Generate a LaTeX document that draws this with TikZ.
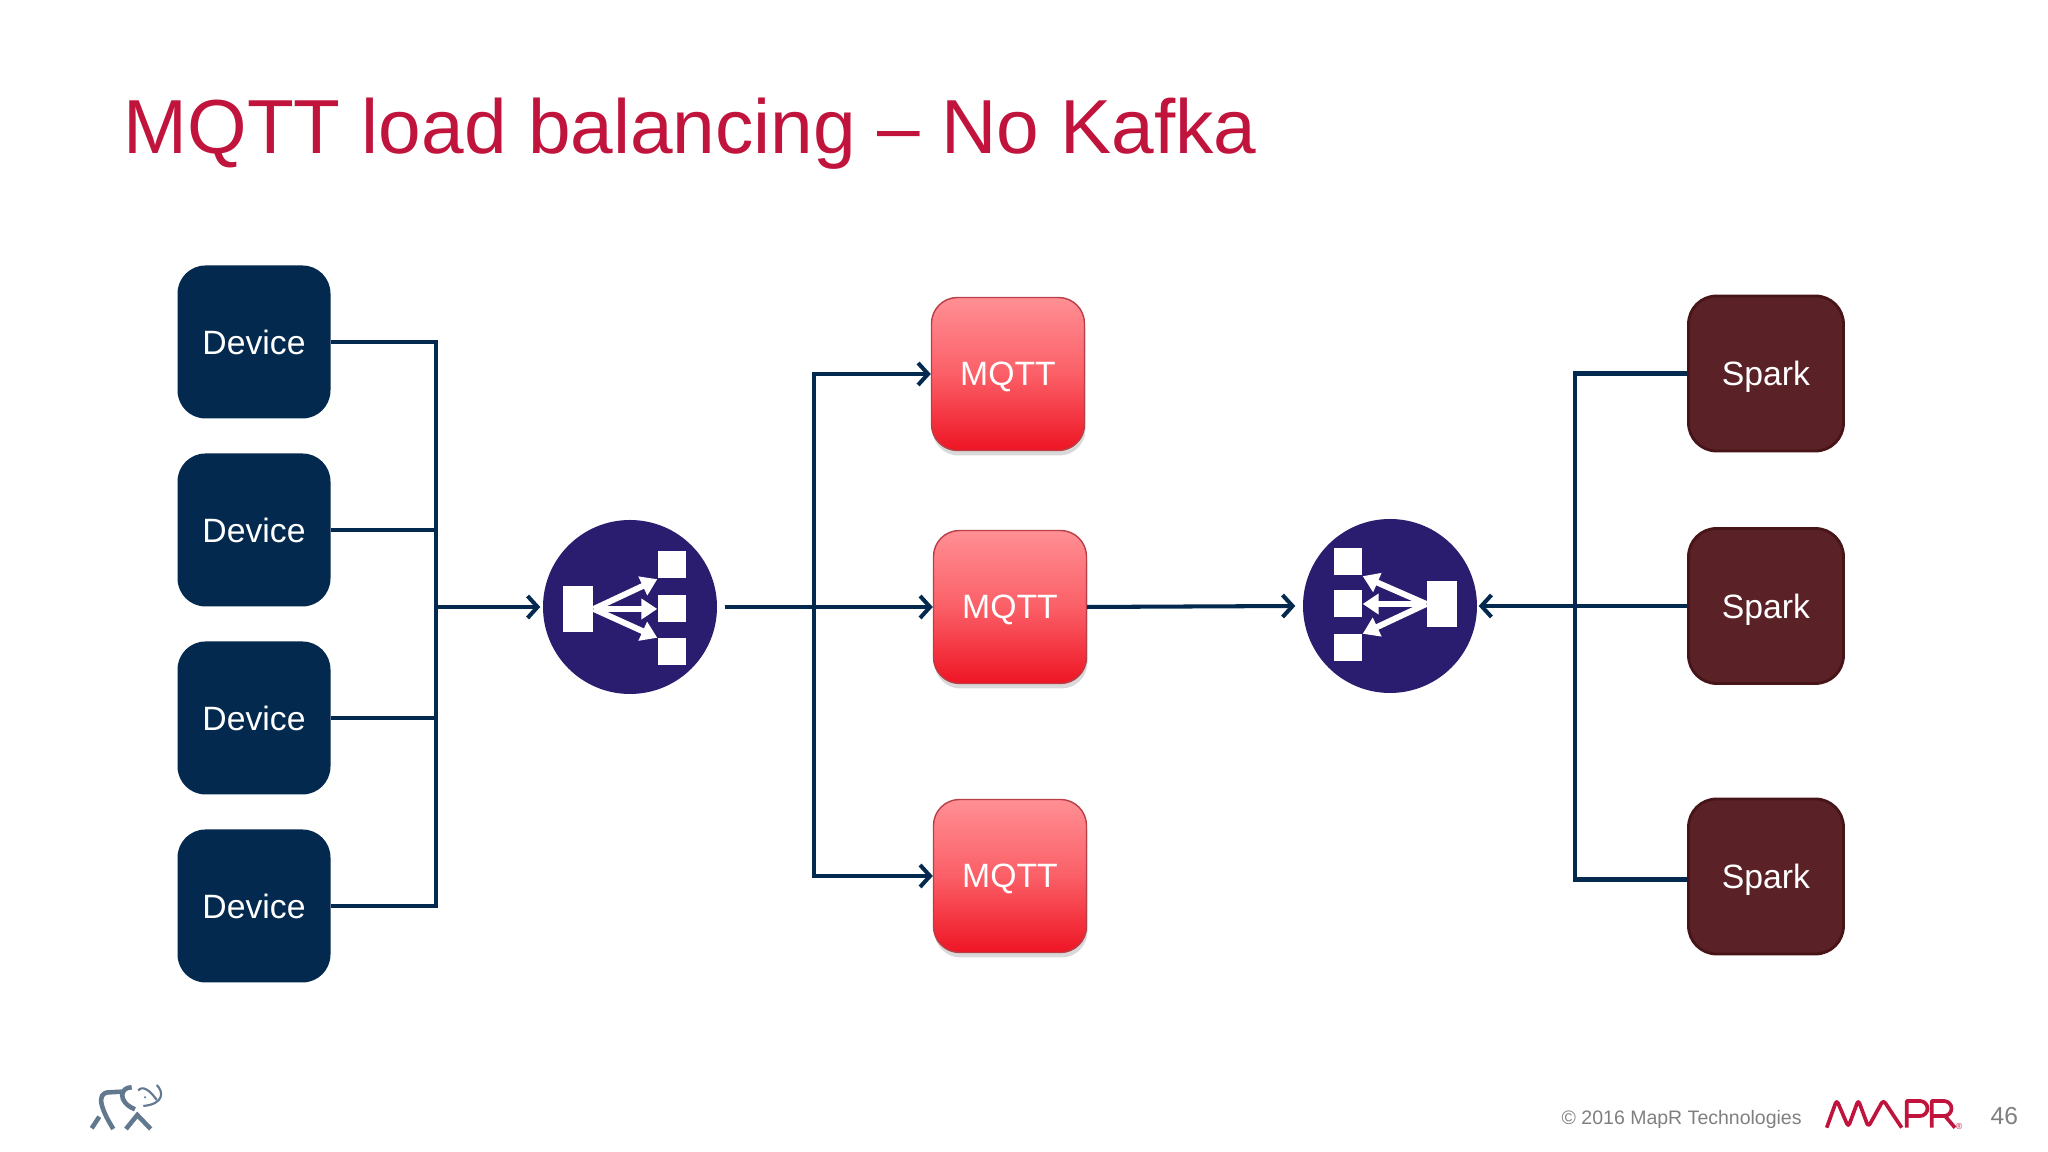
\documentclass[tikz,border=0pt]{standalone}
\usepackage{fontspec}
\setmainfont{Liberation Sans}
\usetikzlibrary{arrows.meta,shadows,calc}
\definecolor{navy}{HTML}{03294F}
\definecolor{wine}{HTML}{5A2126}
\definecolor{wineline}{HTML}{471418}
\definecolor{mapred}{HTML}{C0143C}
\definecolor{lbblue}{HTML}{2A1C6E}
\definecolor{footgray}{HTML}{7F7F7F}
\definecolor{elegray}{HTML}{61788F}
\definecolor{mqtttop}{HTML}{FF8F94}
\definecolor{mqttmid}{HTML}{FB5F67}
\definecolor{mqttbot}{HTML}{EE1524}
\tikzset{
  device/.style ={rectangle, fill=navy, text=white, minimum width=1.53cm, minimum height=1.53cm, rounded corners=0.28cm, font=\fontsize{9.6}{12}\selectfont, text depth=0pt},
  mqtt/.style ={rectangle, draw=mqttbot!70!black!80, top color=mqtttop, bottom color=mqttbot, middle color=mqttmid, text=white, minimum width=1.53cm, minimum height=1.53cm, rounded corners=0.26cm, font=\fontsize{9.6}{12}\selectfont, text depth=0pt, drop shadow={shadow xshift=0.01cm, shadow yshift=-0.05cm, opacity=0.3}},
  spark/.style ={rectangle, draw=wineline, thick, fill=wine, text=white, minimum width=1.55cm, minimum height=1.55cm, rounded corners=0.28cm, font=\fontsize{9.6}{12}\selectfont, text depth=0pt},
  lbc/.style ={circle, fill=lbblue, minimum size=1.74cm, inner sep=0pt},
  lbbig/.style ={rectangle, fill=white, minimum width=0.3cm, minimum height=0.46cm, inner sep=0pt},
  lbsmall/.style ={rectangle, fill=white, minimum width=0.28cm, minimum height=0.27cm, inner sep=0pt},
  lbarrow/.style ={white, line width=1.7pt, -{Triangle[length=0.16cm,width=0.2cm]}},
  wire/.style ={navy, line width=1.15pt},
  wirearrow/.style ={navy, line width=1.15pt, -{Straight Barb[length=0.1cm,width=0.22cm]}},
  mapr/.style ={mapred, line width=1.05pt, line join=round},
  ele/.style ={elegray, line width=1.3pt},
  elethin/.style ={elegray, line width=0.6pt},
}
\begin{document}
\begin{tikzpicture}
\useasboundingbox (0,0) rectangle (20.48,11.52);
\draw (1.23,9.98) node[anchor=base west,text=mapred,font=\fontsize{21.8}{26}\selectfont,inner sep=0pt] (Title) {MQTT load balancing – No Kafka};

\draw (2.54,8.10) node[device] (Dev1) {Device};
\draw (2.54,6.22) node[device] (Dev2) {Device};
\draw (2.54,4.34) node[device] (Dev3) {Device};
\draw (2.54,2.46) node[device] (Dev4) {Device};
\draw (10.08,7.78) node[mqtt] (M1) {MQTT};
\draw (10.10,5.45) node[mqtt] (M2) {MQTT};
\draw (10.10,2.76) node[mqtt] (M3) {MQTT};
\draw (17.66,7.785) node[spark] (S1) {Spark};
\draw (17.66,5.46) node[spark] (S2) {Spark};
\draw (17.66,2.755) node[spark] (S3) {Spark};

% balancer on the left
\draw (6.30,5.45) node[lbc] (LB1) {};
\draw (5.78,5.43) node[lbbig] (LB1a) {};
\draw (6.72,5.87) node[lbsmall] (LB1b) {};
\draw (6.72,5.43) node[lbsmall] (LB1c) {};
\draw (6.72,5.00) node[lbsmall] (LB1d) {};
\draw [lbarrow] (LB1a.east) -- (LB1b.south west);
\draw [lbarrow] (LB1a.east) -- (LB1c.west);
\draw [lbarrow] (LB1a.east) -- (LB1d.north west);

% balancer on the right
\draw (13.90,5.46) node[lbc] (LB2) {};
\draw (14.42,5.48) node[lbbig] (LB2a) {};
\draw (13.48,5.90) node[lbsmall] (LB2b) {};
\draw (13.48,5.48) node[lbsmall] (LB2c) {};
\draw (13.48,5.04) node[lbsmall] (LB2d) {};
\draw [lbarrow] (LB2a.west) -- (LB2b.south east);
\draw [lbarrow] (LB2a.west) -- (LB2c.east);
\draw [lbarrow] (LB2a.west) -- (LB2d.north east);

\coordinate (BusIn) at (4.36,5.45);
\coordinate (BusMq) at (8.14,5.45);
\coordinate (BusSp) at (15.75,5.46);
\draw [wire] (Dev1.east) -| (BusIn);
\draw [wire] (Dev2.east) -| (BusIn);
\draw [wire] (Dev3.east) -| (BusIn);
\draw [wire] (Dev4.east) -| (BusIn);
\draw [wirearrow] (BusIn) -- ($(LB1.west)+(-0.02,0)$);

\draw [wire] ($(LB1.east)+(0.07,0)$) -- (BusMq);
\draw [wirearrow] (BusMq) |- (M1.west);
\draw [wirearrow] (BusMq) -- (M2.west);
\draw [wirearrow] (BusMq) |- (M3.west);
\draw [wirearrow] (M2.east) -- ($(LB2.west)+(-0.07,0)$);

\draw [wire] (S1.west) -| (BusSp);
\draw [wire] (S2.west) -- (BusSp);
\draw [wire] ($(S3.west)+(0,-0.03)$) -| (BusSp);
\draw [wirearrow] (BusSp) -- ($(LB2.east)+(0.01,0)$);

% footer
\draw (15.61,0.27) node[anchor=base west,text=footgray,font=\fontsize{5.55}{7}\selectfont,inner sep=0pt] (Copy) {© 2016 MapR Technologies};
\draw (19.90,0.27) node[anchor=base west,text=footgray,font=\fontsize{7}{9}\selectfont,inner sep=0pt] (Page) {46};

% logo on the right
\draw [mapr,rounded corners=0.035cm] (18.267,0.243) -- (18.367,0.52) -- (18.483,0.25) -- (18.583,0.52) -- (18.683,0.25) -- (18.833,0.52) -- (19.017,0.243);
\draw [mapr] (19.067,0.243) -- (19.067,0.51) -- (19.20,0.51) arc (90:-90:0.075) -- (19.067,0.36);
\draw [mapr] (19.317,0.243) -- (19.317,0.51) -- (19.44,0.51) arc (90:-90:0.075) -- (19.317,0.36) (19.45,0.36) -- (19.55,0.243);
\draw (19.59,0.26) node[text=mapred,font=\fontsize{2.5}{3}\selectfont,inner sep=0pt] (Reg) {®};

% elephant
\draw [ele] (0.917,0.237) -- (0.993,0.353);
\draw [ele] (1.133,0.23) .. controls (1.04,0.38) and (0.93,0.60) .. (1.10,0.597) -- (1.217,0.603);
\draw [ele] (1.317,0.647) .. controls (1.20,0.65) and (1.17,0.50) .. (1.35,0.427);
\draw [ele] (1.26,0.23) -- (1.373,0.37) -- (1.507,0.23);
\draw [elethin] (1.383,0.613) .. controls (1.42,0.67) and (1.50,0.62) .. (1.567,0.52);
\draw [elethin] (1.567,0.67) .. controls (1.64,0.60) and (1.64,0.48) .. (1.433,0.46);
\fill [elegray] (1.45,0.547) circle (0.012);
\end{tikzpicture}
\end{document}
